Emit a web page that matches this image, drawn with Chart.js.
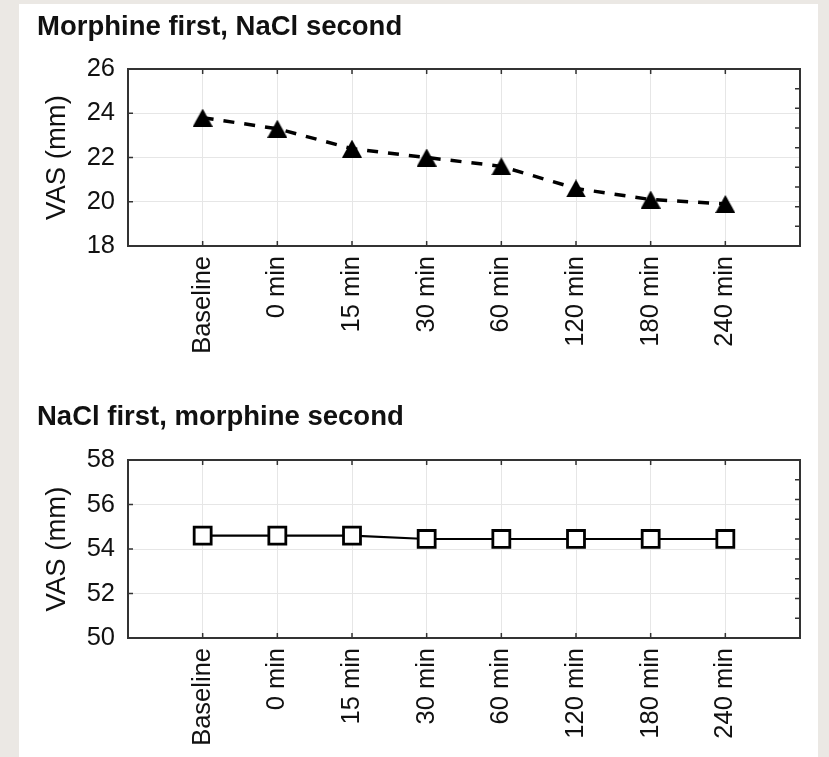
<!DOCTYPE html>
<html>
<head>
<meta charset="utf-8">
<title>VAS over time</title>
<script src="https://cdn.jsdelivr.net/npm/chart.js@4.4.1/dist/chart.umd.min.js"></script>
<style>
  html, body { margin: 0; padding: 0; }
  body { width: 829px; height: 757px; background: #ebe8e4; position: relative; overflow: hidden; }
  #sheet { position: absolute; left: 19px; top: 4px; width: 799px; height: 760px; background: #ffffff; }
  .plot { position: absolute; left: 0; }
  #topWrap { top: 0; width: 829px; height: 380px; }
  #bottomWrap { top: 380px; width: 829px; height: 377px; }
</style>
</head>
<body>
<div id="sheet"></div>
<div class="plot" id="topWrap"><canvas id="topChart"></canvas></div>
<div class="plot" id="bottomWrap"><canvas id="bottomChart"></canvas></div>
<script>
// Time points shared by both panels
const timepoints = ['Baseline', '0 min', '15 min', '30 min', '60 min', '120 min', '180 min', '240 min'];

// Mean VAS (mm) per time point
const morphineFirstVAS = [23.8, 23.3, 22.4, 22.0, 21.6, 20.6, 20.1, 19.9];
const naclFirstVAS = [54.6, 54.6, 54.6, 54.45, 54.45, 54.45, 54.45, 54.45];

// Y-axis tick values
const morphineFirstTicks = [18, 20, 22, 24, 26];
const naclFirstTicks = [50, 52, 54, 56, 58];

const FONT = "'Liberation Sans', Arial, Helvetica, sans-serif";
const INK = '#111111';
const GRID = '#e6e6e6';

// Filled upward triangle marker, centred on its bounding box
function triangleMarker(w, h) {
  const c = document.createElement('canvas');
  c.width = w; c.height = h;
  const g = c.getContext('2d');
  g.fillStyle = '#000000';
  g.beginPath();
  g.moveTo(w / 2, 0);
  g.lineTo(w, h);
  g.lineTo(0, h);
  g.closePath();
  g.fill();
  return c;
}

// Frame around the plot area with short inward tick marks on all four sides
const framePlugin = {
  id: 'frame',
  beforeDatasetsDraw(chart) {
    const { ctx, chartArea: a, scales } = chart;
    const x = scales.x, y = scales.y;
    const len = 5;
    ctx.save();
    ctx.strokeStyle = '#333333';
    ctx.lineWidth = 1.5;
    ctx.beginPath();
    // category ticks on bottom and top edges
    timepoints.forEach((_, i) => {
      const px = x.getPixelForValue(i + 1);
      ctx.moveTo(px, a.bottom); ctx.lineTo(px, a.bottom - len);
      ctx.moveTo(px, a.top); ctx.lineTo(px, a.top + len);
    });
    // major ticks on left edge
    y.ticks.forEach(t => {
      const py = y.getPixelForValue(t.value);
      ctx.moveTo(a.left, py); ctx.lineTo(a.left + len, py);
    });
    // right edge: nine equal divisions
    const n = 9;
    for (let k = 1; k < n; k++) {
      const py = y.getPixelForValue(y.min + (y.max - y.min) * k / n);
      ctx.moveTo(a.right, py); ctx.lineTo(a.right - len, py);
    }
    ctx.stroke();
    ctx.lineWidth = 2;
    ctx.strokeRect(a.left, a.top, a.right - a.left, a.bottom - a.top);
    ctx.restore();
  }
};

function makeChart(canvasId, opts) {
  const points = opts.values.map((v, i) => ({ x: i + 1, y: v }));
  return new Chart(document.getElementById(canvasId), {
    type: 'line',
    data: {
      datasets: [{
        data: points,
        borderColor: '#000000',
        borderWidth: opts.lineWidth,
        borderDash: opts.dash,
        pointStyle: opts.pointStyle,
        pointRadius: opts.pointRadius,
        pointHoverRadius: opts.pointRadius,
        pointBackgroundColor: opts.pointFill,
        pointBorderColor: '#000000',
        pointBorderWidth: opts.pointBorderWidth,
        tension: 0,
        fill: false
      }]
    },
    options: {
      responsive: true,
      maintainAspectRatio: false,
      animation: false,
      events: [],
      layout: { padding: { left: 37, right: 29, top: 0, bottom: 0 } },
      plugins: {
        legend: { display: false },
        tooltip: { enabled: false },
        title: {
          display: true,
          text: opts.title,
          align: 'start',
          color: INK,
          font: { family: FONT, size: 27.5, weight: 'bold', lineHeight: 1.2 },
          padding: { top: opts.titleTop, bottom: opts.titleBottom }
        }
      },
      scales: {
        x: {
          type: 'linear',
          min: 0,
          max: timepoints.length + 1,
          afterBuildTicks: s => {
            s.ticks = [];
            for (let i = 0; i <= timepoints.length + 1; i++) s.ticks.push({ value: i });
          },
          afterFit: s => {
            s.height = opts.xHeight;
            s.paddingLeft = 0;
            s.paddingRight = 0;
          },
          grid: { color: GRID, lineWidth: 1, drawTicks: false },
          border: { display: false },
          ticks: {
            autoSkip: false,
            minRotation: 90,
            maxRotation: 90,
            padding: 10,
            color: INK,
            font: { family: FONT, size: 25.5 },
            callback: v => timepoints[v - 1] ?? ''
          }
        },
        y: {
          type: 'linear',
          min: opts.ticks[0],
          max: opts.ticks[opts.ticks.length - 1],
          afterBuildTicks: s => { s.ticks = opts.ticks.map(v => ({ value: v })); },
          afterFit: s => {
            s.width = 91;
            s.paddingTop = 0;
            s.paddingBottom = 0;
          },
          grid: { color: GRID, lineWidth: 1, drawTicks: false },
          border: { display: false },
          ticks: {
            padding: 13,
            color: INK,
            font: { family: FONT, size: 25.5 }
          },
          title: {
            display: true,
            text: 'VAS (mm)',
            color: INK,
            font: { family: FONT, size: 27.5, lineHeight: 1.2 },
            padding: { top: 4, bottom: 0 }
          }
        }
      }
    },
    plugins: [framePlugin]
  });
}

makeChart('topChart', {
  title: 'Morphine first, NaCl second',
  values: morphineFirstVAS,
  ticks: morphineFirstTicks,
  titleTop: 11.2,
  titleBottom: 24.8,
  xHeight: 134,
  lineWidth: 3.5,
  dash: [11, 10],
  pointStyle: triangleMarker(20, 18),
  pointRadius: 10,
  pointFill: '#000000',
  pointBorderWidth: 0
});

makeChart('bottomChart', {
  title: 'NaCl first, morphine second',
  values: naclFirstVAS,
  ticks: naclFirstTicks,
  titleTop: 21.2,
  titleBottom: 25.8,
  xHeight: 119,
  lineWidth: 2.2,
  dash: [],
  pointStyle: 'rect',
  pointRadius: 12,
  pointFill: '#ffffff',
  pointBorderWidth: 2.8
});
</script>
</body>
</html>
